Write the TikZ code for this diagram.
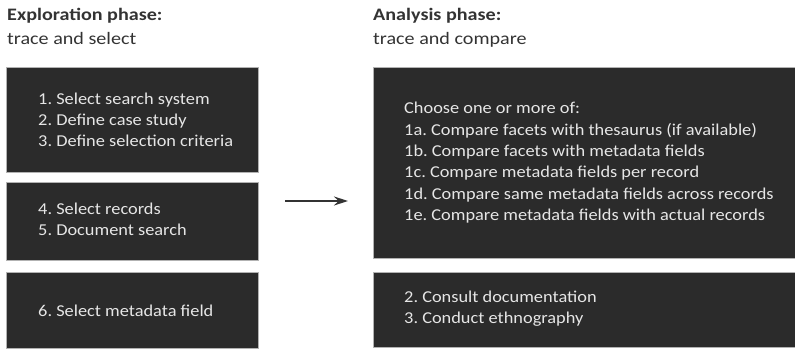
\documentclass[tikz,border=0pt]{standalone}
\usepackage{fontspec}
\setmainfont{Carlito}[FakeStretch=1.105]
\newfontfamily\headfont{Carlito}[FakeStretch=1.15]
\usetikzlibrary {arrows.meta,positioning}

\definecolor{boxgray}{HTML}{2B2B2B}
\definecolor{textgray}{HTML}{E6E6E6}
\definecolor{headgray}{HTML}{333333}

\tikzset{
    phase/.style={anchor=base west, inner sep=0pt, text=headgray,
        font=\headfont\fontsize{17.5}{21}\selectfont},
    stepbox/.style={rectangle, anchor=north west, fill=boxgray, draw=gray!60, line width=0.6pt},
    steptext/.style={anchor=west, inner sep=0pt, align=left, text=textgray,
        font=\fontsize{16.6}{21}\selectfont},
}

\begin{document}
\frenchspacing
\begin{tikzpicture}[x=1pt, y=-1pt]
    \useasboundingbox (0,0) rectangle (795,350);

    \node[phase] (exp) at (7,20.7) {\bfseries Exploration phase:};
    \node[phase] (expsub) at (7,44.3) {trace and select};
    \node[phase] (ana) at (373,20.7) {\bfseries Analysis phase:};
    \node[phase] (anasub) at (373,44.3) {trace and compare};

    \node[stepbox, minimum width=252pt, minimum height=105pt] (a) at (6,67) {};
    \node[stepbox, minimum width=252pt, minimum height=78pt] (b) at (6,182) {};
    \node[stepbox, minimum width=252pt, minimum height=76pt] (c) at (6,272) {};
    \node[stepbox, minimum width=424pt, minimum height=191pt] (d) at (373,67) {};
    \node[stepbox, minimum width=424pt, minimum height=75pt] (e) at (373,272) {};

    \node[steptext, right=32pt of a.west] (at) {1. Select search system\\2. Define case study\\3. Define selection criteria};
    \node[steptext, right=32pt of b.west, yshift=1.5pt] (bt) {4. Select records\\5. Document search};
    \node[steptext, right=32pt of c.west] (ct) {6. Select metadata field};
    \node[steptext, right=31pt of d.west, font=\fontsize{16.6}{21.3}\selectfont] (dt)
        {Choose one or more of:\\1a. Compare facets with thesaurus (if available)\\1b. Compare facets with metadata fields\\1c. Compare metadata fields per record\\1d. Compare same metadata fields across records\\1e. Compare metadata fields with actual records};
    \node[steptext, right=31pt of e.west, yshift=1pt] (et) {2. Consult documentation\\3. Conduct ethnography};

    \coordinate (p) at (285,201);
    \coordinate (q) at (348,201);
    \draw[-{Stealth[length=14pt, width=9pt]}, line width=1.3pt, draw=black!80] (p) -- (q);
\end{tikzpicture}
\end{document}
